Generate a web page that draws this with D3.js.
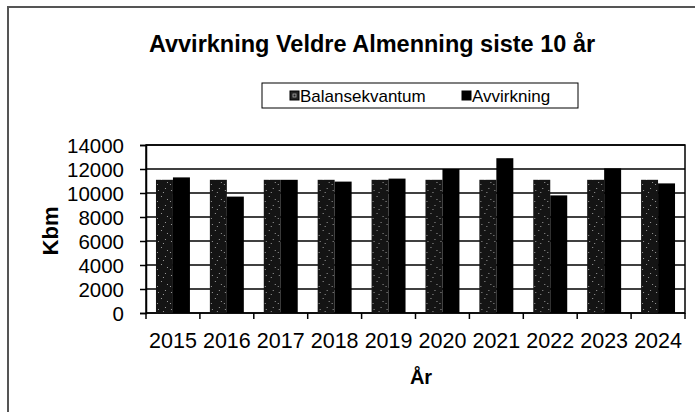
<!DOCTYPE html>
<html>
<head>
<meta charset="utf-8">
<script src="https://cdn.jsdelivr.net/npm/d3@7"></script>
<style>
  body { margin: 0; background: #fff; }
  text { font-family: "Liberation Sans", Arial, sans-serif; fill: #000; }
</style>
</head>
<body>
<script>
// chart data
var years = ["2015", "2016", "2017", "2018", "2019", "2020", "2021", "2022", "2023", "2024"];
var balansekvantum = [11100, 11100, 11100, 11100, 11100, 11100, 11100, 11100, 11100, 11100];
var avvirkning = [11300, 9700, 11100, 10950, 11200, 12000, 12900, 9800, 12050, 10800];
var seriesNames = ["Balansekvantum", "Avvirkning"];
var yTicks = [0, 2000, 4000, 6000, 8000, 10000, 12000, 14000];

var W = 695, H = 412;
var plot = {left: 146, right: 685, top: 145, bottom: 313};

var svg = d3.select("body").append("svg")
    .attr("width", W)
    .attr("height", H);

// speckled dark fill for Balansekvantum
var defs = svg.append("defs");
var pat = defs.append("pattern")
    .attr("id", "speckle")
    .attr("patternUnits", "userSpaceOnUse")
    .attr("width", 13)
    .attr("height", 17);
pat.append("rect").attr("width", 13).attr("height", 17).attr("fill", "#141414");
[[2, 3], [9, 1], [5, 9], [11, 12], [1, 14], [7, 5]].forEach(function(p) {
  pat.append("rect").attr("x", p[0]).attr("y", p[1])
      .attr("width", 1).attr("height", 1).attr("fill", "#9a9a9a");
});

// outer chart frame (right/bottom edges fall outside the picture)
svg.append("rect")
    .attr("x", 8).attr("y", 7)
    .attr("width", W + 20).attr("height", H + 20)
    .attr("fill", "none")
    .attr("stroke", "#555")
    .attr("stroke-width", 2);

// scales
var x0 = d3.scaleBand().domain(years).range([plot.left, plot.right])
    .paddingInner(0.37).paddingOuter(0.185);
var x1 = d3.scaleBand().domain(seriesNames).range([0, x0.bandwidth()]);
var y = d3.scaleLinear().domain([0, 14000]).range([plot.bottom, plot.top]);

// gridlines
svg.append("g")
  .selectAll("line")
  .data(yTicks)
  .enter().append("line")
    .attr("x1", plot.left).attr("x2", plot.right)
    .attr("y1", function(d) { return y(d); })
    .attr("y2", function(d) { return y(d); })
    .attr("stroke", "#000")
    .attr("stroke-width", 1.5);

// plot area border
svg.append("rect")
    .attr("x", plot.left).attr("y", plot.top)
    .attr("width", plot.right - plot.left)
    .attr("height", plot.bottom - plot.top)
    .attr("fill", "none")
    .attr("stroke", "#000")
    .attr("stroke-width", 1.5);

// bars
var rows = years.map(function(yr, i) {
  return {year: yr, values: [
    {name: "Balansekvantum", value: balansekvantum[i]},
    {name: "Avvirkning", value: avvirkning[i]}
  ]};
});

var group = svg.selectAll(".grp")
    .data(rows)
  .enter().append("g")
    .attr("class", "grp")
    .attr("transform", function(d) { return "translate(" + x0(d.year) + ",0)"; });

group.selectAll("rect")
    .data(function(d) { return d.values; })
  .enter().append("rect")
    .attr("x", function(d) { return x1(d.name); })
    .attr("y", function(d) { return y(d.value); })
    .attr("width", x1.bandwidth())
    .attr("height", function(d) { return plot.bottom - y(d.value); })
    .attr("fill", function(d) { return d.name == "Balansekvantum" ? "url(#speckle)" : "#000"; });

// y axis
var yAxis = d3.axisLeft(y).tickValues(yTicks).tickFormat(d3.format("d"))
    .tickSize(6).tickPadding(16);
svg.append("g")
    .attr("transform", "translate(" + plot.left + ",0)")
    .call(yAxis)
    .call(function(g) {
      g.select(".domain").attr("stroke-width", 1.5);
      g.selectAll("line").attr("stroke-width", 1.5);
      g.selectAll("text").style("font-size", "20.5px").attr("dy", "0.36em");
    });

// x axis - ticks sit between categories
var xAxis = d3.axisBottom(x0).tickSize(0).tickPadding(20);
svg.append("g")
    .attr("transform", "translate(0," + plot.bottom + ")")
    .call(xAxis)
    .call(function(g) {
      g.select(".domain").remove();
      g.selectAll("text").style("font-size", "21.5px").attr("dy", "0.68em");
    });

var step = x0.step();
svg.append("g")
  .selectAll("line")
  .data(d3.range(years.length + 1))
  .enter().append("line")
    .attr("x1", function(i) { return plot.left + i * step; })
    .attr("x2", function(i) { return plot.left + i * step; })
    .attr("y1", plot.bottom)
    .attr("y2", plot.bottom + 6)
    .attr("stroke", "#000")
    .attr("stroke-width", 1.5);

// title
svg.append("text")
    .attr("x", 372).attr("y", 52)
    .attr("text-anchor", "middle")
    .style("font-size", "23.5px")
    .style("font-weight", "bold")
    .text("Avvirkning Veldre Almenning siste 10 år");

// axis titles
svg.append("text")
    .attr("transform", "translate(58,231) rotate(-90)")
    .attr("text-anchor", "middle")
    .style("font-size", "22px")
    .style("font-weight", "bold")
    .text("Kbm");

svg.append("text")
    .attr("x", 421).attr("y", 384)
    .attr("text-anchor", "middle")
    .style("font-size", "20px")
    .style("font-weight", "bold")
    .text("År");

// legend
var legend = svg.append("g").attr("transform", "translate(262,83)");
legend.append("rect")
    .attr("width", 316).attr("height", 25)
    .attr("fill", "#fff")
    .attr("stroke", "#000")
    .attr("stroke-width", 1);

var legendX = [28, 200];
var item = legend.selectAll(".legend")
    .data(seriesNames)
  .enter().append("g")
    .attr("class", "legend")
    .attr("transform", function(d, i) { return "translate(" + legendX[i] + ",0)"; });

item.append("rect")
    .attr("x", 0).attr("y", 8)
    .attr("width", 9).attr("height", 9)
    .attr("fill", function(d, i) { return i == 0 ? "#222" : "#000"; })
    .attr("stroke", "#000");

item.filter(function(d, i) { return i == 0; }).append("rect")
    .attr("x", 3).attr("y", 11).attr("width", 3).attr("height", 3)
    .attr("fill", "none").attr("stroke", "#aaa").attr("stroke-width", 0.8);

item.append("text")
    .attr("x", 10).attr("y", 19)
    .style("font-size", "17px")
    .text(function(d) { return d; });
</script>
</body>
</html>
